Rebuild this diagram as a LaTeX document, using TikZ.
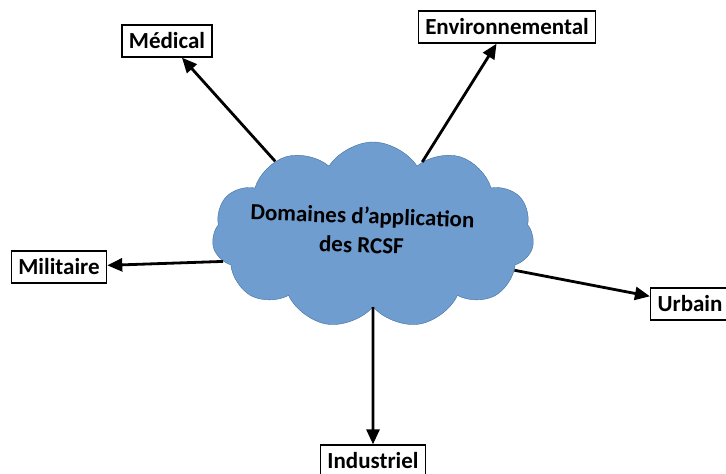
\documentclass[tikz,border=0pt]{standalone}
\usepackage{fontspec}
\setmainfont{Carlito}
\usetikzlibrary{shapes.symbols, arrows.meta}

\definecolor{nuage}{HTML}{6F9DD0}
\definecolor{bordnuage}{HTML}{41719C}

\begin{document}
\begin{tikzpicture}[x=1pt, y=-1pt,
	domaine/.style={draw, line width=1.3pt, fill=white, font=\fontsize{23}{26}\selectfont\bfseries, inner xsep=7pt, minimum height=32pt},
	fleche/.style={-{Triangle[length=15pt, width=13pt]}, line width=2.8pt}]
	\useasboundingbox (0,0) rectangle (726,474);
	% nuage central et domaines
	\node[cloud, cloud puffs=11, cloud puff arc=115, aspect=1.75, draw=bordnuage, fill=nuage,
		minimum width=322pt, minimum height=186pt] (C) at (373,235) {};
	\node[rotate=-2, align=center, font=\fontsize{23}{29}\selectfont\bfseries] (T) at (362,230) {Domaines d’application\\des RCSF};
	\foreach \n/\a/\x/\y/\t in {med/143/167/41/Médical, env/56/507/27/Environnemental, mil/190/59/267/Militaire, urb/346/690/304/Urbain, ind/270/373/461/Industriel} {
		\node[domaine] (\n) at (\x,\y) {\t};
		\draw[fleche] (C.\a) -- (\n);
	}
\end{tikzpicture}
\end{document}
